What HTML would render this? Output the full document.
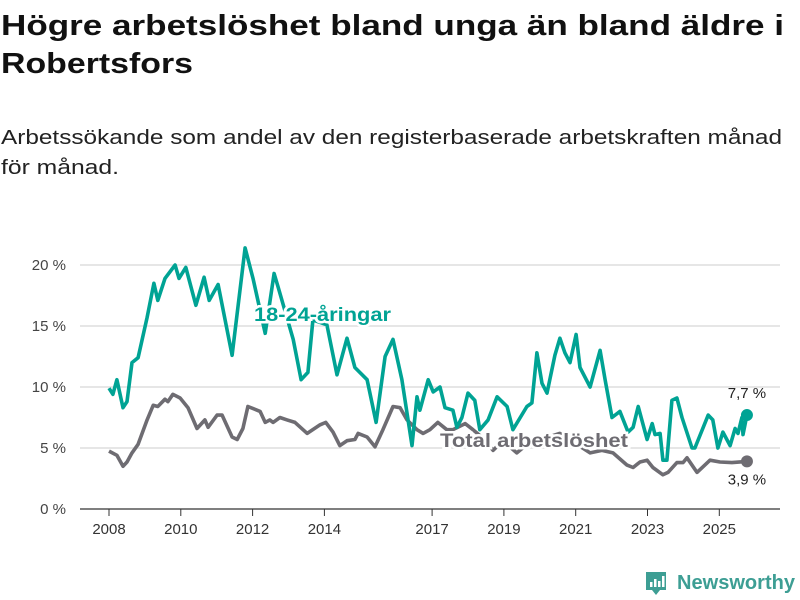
<!DOCTYPE html>
<html><head><meta charset="utf-8"><style>
html,body{margin:0;padding:0;background:#fff;}
svg{display:block;font-family:"Liberation Sans",sans-serif;}
</style></head><body>
<svg width="800" height="600" viewBox="0 0 800 600">
<text x="1" y="35" font-size="29" font-weight="bold" fill="#111" textLength="783" lengthAdjust="spacingAndGlyphs">Högre arbetslöshet bland unga än bland äldre i</text>
<text x="1" y="73" font-size="29" font-weight="bold" fill="#111" textLength="192" lengthAdjust="spacingAndGlyphs">Robertsfors</text>
<text x="1" y="144" font-size="20" fill="#222" textLength="781" lengthAdjust="spacingAndGlyphs">Arbetssökande som andel av den registerbaserade arbetskraften månad</text>
<text x="1" y="174" font-size="20" fill="#222" textLength="118" lengthAdjust="spacingAndGlyphs">för månad.</text>
<g id="grid"></g>
<g id="xaxis"></g>
<g id="series"></g>
<g>
<path d="M646 572 h20 v18 h-6 l-4 5 l-4 -5 h-6 z" fill="#3d9e94"/>
<rect x="650" y="582" width="2.5" height="5" fill="#fff"/><rect x="654" y="579" width="2.5" height="8" fill="#fff"/><rect x="658" y="581" width="2.5" height="6" fill="#fff"/><rect x="662" y="576" width="2.5" height="11" fill="#fff"/>
<text x="677" y="589" font-size="20" font-weight="bold" fill="#3d9e94" textLength="118" lengthAdjust="spacingAndGlyphs">Newsworthy</text>
</g>
</svg>
<script>
const yTicks=[0,5,10,15,20];
const xTickYears=[2008,2010,2012,2014,2017,2019,2021,2023,2025];
const youthDates=[0,.11,.22,.39,.5,.64,.81,1.06,1.25,1.36,1.56,1.84,1.95,2.14,2.42,2.65,2.79,3.04,3.43,3.79,4.01,4.35,4.6,4.71,5.13,5.35,5.54,5.68,6.07,6.35,6.63,6.85,7.19,7.44,7.69,7.91,8.16,8.44,8.58,8.66,8.89,9.03,9.22,9.36,9.58,9.69,9.83,10.0,10.19,10.33,10.56,10.81,11.09,11.25,11.64,11.78,11.92,12.06,12.2,12.42,12.56,12.7,12.84,13.01,13.12,13.4,13.68,13.82,14.01,14.23,14.46,14.6,14.74,14.99,15.13,15.21,15.35,15.43,15.54,15.68,15.82,15.96,16.24,16.32,16.69,16.82,16.96,17.1,17.3,17.44,17.52,17.63,17.66,17.77];
const youthValues=[9.9,9.4,10.6,8.3,8.8,12.0,12.4,15.7,18.5,17.1,18.9,20.0,18.9,19.8,16.7,19.0,17.1,18.4,12.6,21.4,18.9,14.4,19.3,18.2,13.9,10.6,11.2,15.5,15.1,11.0,14.0,11.6,10.6,7.1,12.5,13.9,10.6,5.2,9.2,8.1,10.6,9.6,10.0,8.3,8.1,6.7,7.5,9.5,8.9,6.5,7.3,9.2,8.4,6.5,8.4,8.7,12.8,10.3,9.5,12.6,14.0,12.8,12.0,14.3,11.6,10.0,13.0,10.6,7.5,8.0,6.3,6.7,8.4,5.7,7.0,6.1,6.2,4.0,4.0,8.9,9.1,7.5,5.0,5.0,7.7,7.3,5.0,6.3,5.2,6.6,6.2,7.5,6.1,7.7];
const totalDates=[0,.22,.39,.5,.64,.81,1.06,1.23,1.36,1.56,1.64,1.78,1.98,2.2,2.45,2.67,2.76,3.01,3.15,3.43,3.57,3.73,3.87,4.21,4.35,4.48,4.57,4.76,4.96,5.18,5.52,5.88,6.04,6.24,6.43,6.63,6.85,6.94,7.19,7.41,7.63,7.91,8.11,8.3,8.58,8.75,8.94,9.16,9.41,9.58,9.92,10.14,10.42,10.7,10.97,11.36,11.73,12.14,12.56,12.98,13.4,13.73,14.04,14.43,14.6,14.79,14.99,15.15,15.43,15.57,15.82,15.99,16.1,16.38,16.74,17.02,17.35,17.77];
const totalValues=[4.75,4.4,3.5,3.85,4.6,5.3,7.3,8.5,8.4,9.0,8.8,9.4,9.1,8.3,6.6,7.3,6.7,7.7,7.7,5.9,5.7,6.6,8.4,8.0,7.1,7.3,7.1,7.5,7.3,7.1,6.2,6.9,7.1,6.3,5.2,5.6,5.7,6.2,5.9,5.1,6.5,8.4,8.3,7.3,6.5,6.2,6.5,7.1,6.5,6.5,7.0,6.5,5.8,4.8,5.6,4.6,5.5,5.8,6.2,5.4,4.6,4.8,4.6,3.6,3.4,3.85,4.0,3.4,2.8,3.0,3.8,3.8,4.2,3.0,4.0,3.85,3.8,3.9];
const NS="http://www.w3.org/2000/svg";
const X=t=>109+t*35.9;           // t = years since 2008
const Y=v=>509-v*12.2;
function mk(tag,attrs,parent){const e=document.createElementNS(NS,tag);for(const k in attrs)e.setAttribute(k,attrs[k]);parent.appendChild(e);return e;}
const grid=document.getElementById('grid'),xa=document.getElementById('xaxis'),ser=document.getElementById('series');
yTicks.forEach(v=>{
 const l=mk('line',{x1:80,x2:780,y1:Y(v),y2:Y(v),stroke:v===0?'#333':'#ddd','stroke-width':v===0?1.2:1.5},grid);
 
 
 const t=mk('text',{x:66,y:Y(v)+5,'font-size':15,fill:'#444','text-anchor':'end'},grid);
 t.textContent=v+' %';
 
 
});
xTickYears.forEach(yr=>{
 const x=X(yr-2008);
 const l=mk('line',{x1:x,x2:x,y1:509,y2:516,stroke:'#333','stroke-width':1},xa);
 
 
 const t=mk('text',{x:x,y:534,'font-size':15,fill:'#333','text-anchor':'middle'},xa);
 t.textContent=yr;
 
 
});
function line(dates,vals,color,name){
 const d=dates.map((t,i)=>(i?'L':'M')+X(t).toFixed(1)+' '+Y(vals[i]).toFixed(1)).join(' ');
 const p=mk('path',{d:d,fill:'none',stroke:color,'stroke-width':3.6,'stroke-linejoin':'round'},ser);
 
 
 const n=dates.length-1;
 const c=mk('circle',{cx:X(dates[n]),cy:Y(vals[n]),r:6,fill:color},ser);
 
 
}
line(totalDates,totalValues,'#6e6c72','total');
line(youthDates,youthValues,'#00a394','youth');
function lab(x,y,txt,color,name,size,bold,anchor,len){
 const a={x:x,y:y,'font-size':size,'font-weight':bold?'bold':'normal',fill:color,stroke:'#fff','stroke-width':bold?5:0,'paint-order':'stroke','text-anchor':anchor||'start'};
 if(len){a.textLength=len;a.lengthAdjust='spacingAndGlyphs';}
 const t=mk('text',a,ser);
 t.textContent=txt;
 
 
}
lab(254,321,'18-24-åringar','#00a394','youth-series-label',19,true,null,137);
lab(440,447,'Total arbetslöshet','#6e6c72','total-series-label',19,true,null,188);
const ny=youthDates.length-1,nt=totalDates.length-1;
lab(X(youthDates[ny]),Y(youthValues[ny])-17,String(youthValues[ny]).replace('.',',')+' %','#222','youth-end-value',15,false,'middle');
lab(X(totalDates[nt]),Y(totalValues[nt])+23,String(totalValues[nt]).replace('.',',')+' %','#222','total-end-value',15,false,'middle');
</script>
</body></html>
